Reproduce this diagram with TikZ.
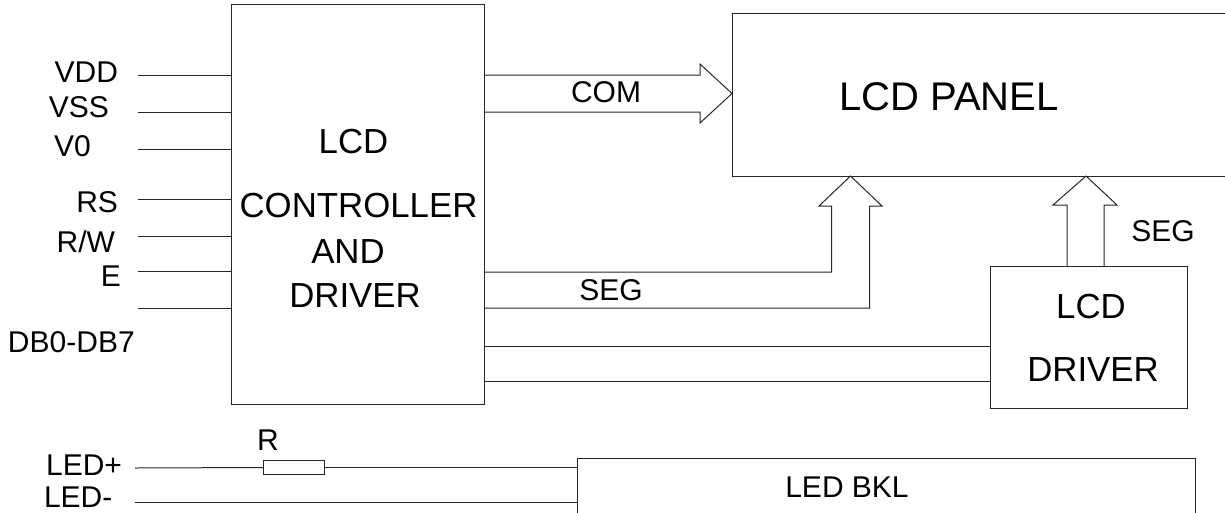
\documentclass[tikz,border=0pt]{standalone}
\usepackage{fontspec}
\setmainfont{Liberation Sans}
\newcommand{\fsz}[1]{\fontsize{#1pt}{#1pt}\selectfont}
\tikzset{
  ln/.style={draw=black!85,line width=1pt,line join=miter},
  boxx/.style={ln,rectangle,inner sep=0pt,outer sep=0pt,fill=white,anchor=north west},
  lbl/.style={inner sep=0pt,outer sep=0pt,font=\fsz{30}},
  big/.style={inner sep=0pt,outer sep=0pt,font=\fsz{34.8}}
}
\begin{document}
\begin{tikzpicture}[x=1pt,y=-1pt]
\useasboundingbox (0,0) rectangle (1225,512);
\clip (0,0) rectangle (1225,512);
% boxes
\node[boxx,minimum width=253pt,minimum height=400pt] (ctrl) at (231,4.5) {};
\node[boxx,minimum width=197pt,minimum height=142pt] (drv) at (990,266) {};
\node[boxx,minimum width=618pt,minimum height=80pt] (bkl) at (577,458) {};
\path[ln,fill=white] (732,13) rectangle (1240,176);
\coordinate (panelW) at (732,93.5);
\coordinate (tipA) at (850.5,176);
\coordinate (tipB) at (1086,176);
% left input lines
\foreach \n/\y in {a/75,b/112,c/149,d/199,e/236,f/271,g/308}{
  \coordinate (in\n) at (137.5,\y);
  \draw[ln] (in\n) -- (in\n -| ctrl.west);
}
% COM hollow arrow
\draw[ln] (ctrl.east |- 0,75) -- (700,75) -- (700,64) -- (panelW) -- (700,123) -- (700,112) -- (ctrl.east |- 0,112);
% SEG hollow arrow to panel
\draw[ln] (ctrl.east |- 0,272) -- (831.5,272) -- (831.5,206) -- (819,206) -- (tipA) -- (882,206) -- (869.5,206) -- (869.5,308) -- (ctrl.east |- 0,308);
% SEG hollow arrow from driver
\draw[ln] (1067,266) -- (1067,205) -- (1053,205) -- (tipB) -- (1117,205) -- (1104,205) -- (1104,266);
% links to driver
\draw[ln] (ctrl.east |- 0,346) -- (drv.west |- 0,346);
\draw[ln] (ctrl.east |- 0,381) -- (drv.west |- 0,381);
% LED lines
\node[boxx,minimum width=61pt,minimum height=14pt] (res) at (263,460.5) {};
\coordinate (ledp) at (135,468);
\coordinate (ledm) at (135,502);
\draw[ln] (ledp) -- (res.west);
\draw[ln] (res.east) -- (bkl.west |- res.east);
\draw[ln] (ledm) -- (bkl.west |- ledm);
% texts
\node[big,anchor=base] (t1) at (353.5,153) {LCD};
\node[big,anchor=base] (t2) at (358.5,217) {CONTROLLER};
\node[big,anchor=base] (t3) at (348,263) {AND};
\node[big,anchor=base] (t4) at (355,307) {DRIVER};
\node[inner sep=0pt,font=\fsz{40},anchor=base] (t5) at (949,110) {LCD PANEL};
\node[big,anchor=base] (t6) at (1091,318) {LCD};
\node[big,anchor=base] (t7) at (1093,381) {DRIVER};
\node[lbl,anchor=base] (t8) at (606,102) {COM};
\node[lbl,anchor=base] (t9) at (611,300) {SEG};
\node[lbl,anchor=base] (t10) at (1163,241) {SEG};
\node[lbl,anchor=base] (t11) at (847,497) {LED BKL};
\node[lbl,anchor=base] (t12) at (268,450) {R};
\node[lbl,anchor=base east] (t13) at (118,82) {VDD};
\node[lbl,anchor=base east] (t14) at (109,117) {VSS};
\node[lbl,anchor=base west] (t15) at (54,156) {V0};
\node[lbl,anchor=base east] (t16) at (118,212) {RS};
\node[lbl,anchor=base east] (t17) at (115,252) {R/W};
\node[lbl,anchor=base east] (t18) at (121,286) {E};
\node[lbl,anchor=base west] (t19) at (8,352) {DB0-DB7};
\node[lbl,anchor=base east] (t20) at (122,475) {LED+};
\node[lbl,anchor=base west] (t21) at (44,507) {LED-};
\end{tikzpicture}
\end{document}
